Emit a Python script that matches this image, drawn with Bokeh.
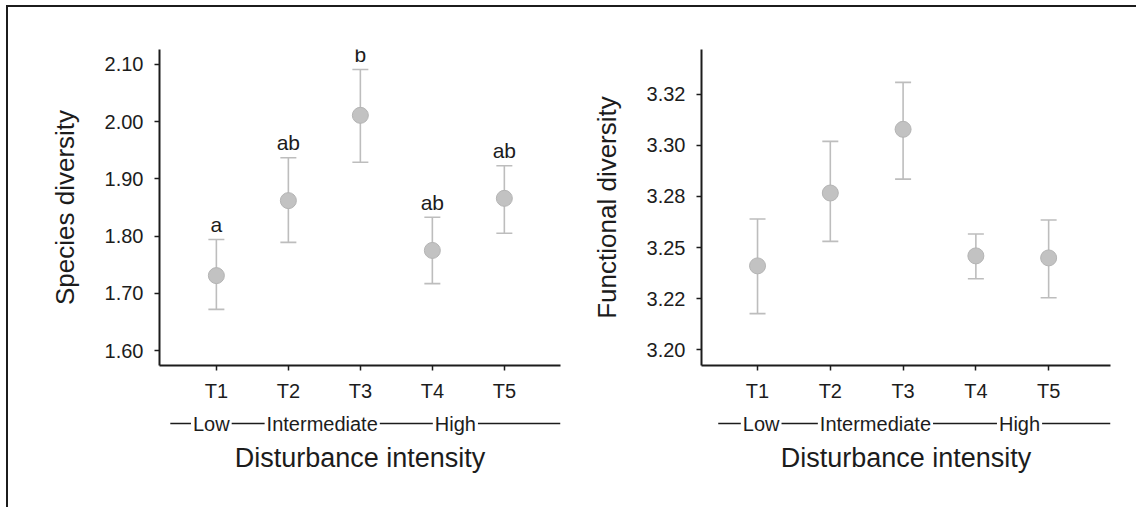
from bokeh.plotting import figure
from bokeh.models import (ColumnDataSource, Range1d, FixedTicker, Whisker, TeeHead)
from bokeh.layouts import row, column
from bokeh.embed import file_html
from bokeh.resources import INLINE
from bokeh.core.properties import value

# ---------------- data ----------------
treatments = ["T1", "T2", "T3", "T4", "T5"]
positions = [1, 2, 3, 4, 5]
groups = ["Low", "Intermediate", "High"]

species_mean = [1.731, 1.862, 2.011, 1.775, 1.866]
species_upper = [1.794, 1.937, 2.091, 1.833, 1.923]
species_lower = [1.672, 1.789, 1.929, 1.717, 1.805]
species_letters = ["a", "ab", "b", "ab", "ab"]
species_ticks = [1.60, 1.70, 1.80, 1.90, 2.00, 2.10]
species_tick_labels = ["1.60", "1.70", "1.80", "1.90", "2.00", "2.10"]

func_mean = [3.2410, 3.2767, 3.3079, 3.2459, 3.2449]
func_upper = [3.2640, 3.3020, 3.3309, 3.2566, 3.2635]
func_lower = [3.2176, 3.2530, 3.2835, 3.2347, 3.2254]
func_letters = ["", "", "", "", ""]
func_ticks = [3.200, 3.225, 3.250, 3.275, 3.300, 3.325]
func_tick_labels = ["3.20", "3.22", "3.25", "3.28", "3.30", "3.32"]

x_title = "Disturbance intensity"

FONT = "Liberation Sans"
INK = "#1c1c1c"
GRAY = "#bdbdbd"
FRAME_H = 316
SUB_H = 102


def make_panel(mean, upper, lower, letters, ticks, tick_labels, ylabel,
               x_range, y_range, group_x, line_start,
               border_left, border_right, frame_w):
    xr = Range1d(*x_range)
    p = figure(frame_width=frame_w, frame_height=FRAME_H,
               min_border_left=border_left, min_border_right=border_right,
               min_border_top=42, min_border_bottom=40,
               x_range=xr, y_range=Range1d(*y_range),
               output_backend="svg", toolbar_location=None)
    p.grid.visible = False
    p.outline_line_color = None

    px_per_unit = FRAME_H / (y_range[1] - y_range[0])
    letter_y = [u + 15 / px_per_unit for u in upper]
    src = ColumnDataSource(dict(x=positions, mean=mean, upper=upper,
                                lower=lower, letter=letters, ly=letter_y))

    w = Whisker(base="x", upper="upper", lower="lower", source=src,
                line_color=GRAY, line_width=1.6,
                upper_head=TeeHead(size=16, line_color=GRAY, line_width=1.6),
                lower_head=TeeHead(size=16, line_color=GRAY, line_width=1.6))
    p.add_layout(w)
    p.scatter("x", "mean", source=src, size=16, fill_color="#c2c2c2",
              line_color="#b4b4b4", line_width=1)
    p.text("x", "ly", text="letter", source=src, text_align="center",
           text_baseline="alphabetic",
           text_font=value(FONT), text_font_size="21px", text_color=INK)

    for ax in (p.xaxis[0], p.yaxis[0]):
        ax.axis_line_width = 2
        ax.axis_line_color = INK
        ax.major_tick_line_color = INK
        ax.major_tick_line_width = 1.5
        ax.major_tick_out = 5
        ax.major_tick_in = 0
        ax.minor_tick_line_color = None
        ax.major_label_text_font = FONT
        ax.major_label_text_font_size = "20px"
        ax.major_label_text_color = INK
        ax.axis_label_text_font = FONT
        ax.axis_label_text_font_size = "26px"
        ax.axis_label_text_font_style = "normal"
        ax.axis_label_text_color = INK

    p.yaxis.ticker = FixedTicker(ticks=ticks)
    p.yaxis.major_label_overrides = {t: l for t, l in zip(ticks, tick_labels)}
    p.yaxis.major_label_standoff = 11
    p.yaxis.axis_label = ylabel
    p.yaxis.axis_label_standoff = 22

    p.xaxis.ticker = FixedTicker(ticks=positions)
    p.xaxis.major_label_overrides = {t: l for t, l in zip(positions, treatments)}
    p.xaxis.major_label_standoff = 9

    # sub figure: group row + axis title (y measured in px from its top)
    s = figure(frame_width=frame_w, frame_height=SUB_H,
               min_border_left=border_left, min_border_right=border_right,
               min_border_top=0, min_border_bottom=0,
               x_range=xr, y_range=Range1d(SUB_H, 0),
               x_axis_type=None, y_axis_type=None,
               output_backend="svg", toolbar_location=None)
    s.grid.visible = False
    s.outline_line_color = None
    row_y = 18
    s.segment(x0=[line_start], y0=[row_y], x1=[x_range[1]], y1=[row_y],
              line_color=INK, line_width=1.7)
    s.text(x=group_x, y=[row_y] * len(groups), text=groups,
           text_align="center", text_baseline="middle",
           text_font=value(FONT), text_font_size="20px", text_color=INK,
           background_fill_color="white", padding=2)
    s.text(x=[(x_range[0] + x_range[1]) / 2], y=[52], text=[x_title],
           text_align="center", text_baseline="middle",
           text_font=value(FONT), text_font_size="27px", text_color=INK)
    return column(p, s, spacing=0)


c1 = make_panel(species_mean, species_upper, species_lower, species_letters,
                species_ticks, species_tick_labels, "Species diversity",
                (0.21, 5.78), (1.574, 2.126), [0.93, 2.47, 4.32], 0.36,
                151, 20, 401)
c2 = make_panel(func_mean, func_upper, func_lower, func_letters,
                func_ticks, func_tick_labels, "Functional diversity",
                (0.23, 5.85), (3.1922, 3.347), [1.05, 2.62, 4.60], 0.46,
                121, 26, 409)

layout = row(c1, c2, spacing=0,
             styles={"border-left": "2px solid #1c1c1c",
                     "border-top": "2px solid #1c1c1c",
                     "margin-left": "6px", "margin-top": "5px"})

open("out.html", "w").write(file_html(layout, INLINE))
